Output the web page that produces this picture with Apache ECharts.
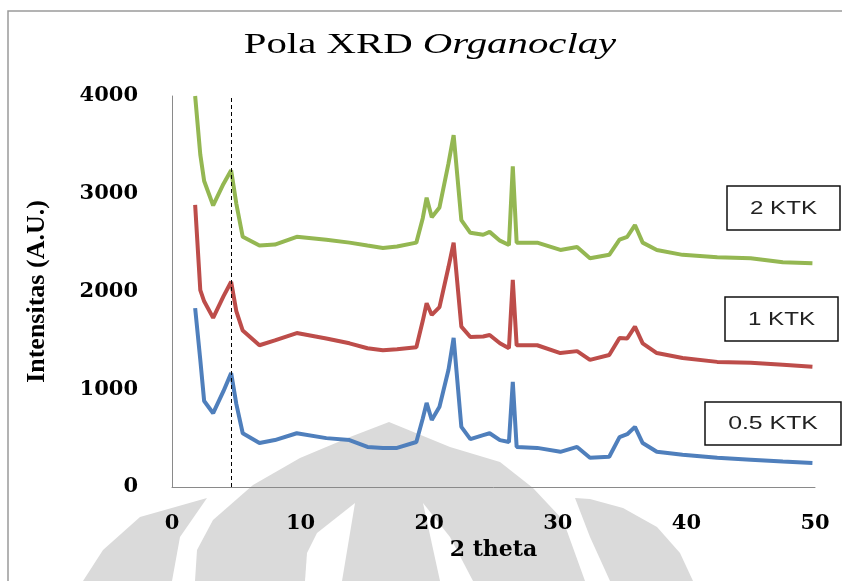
<!DOCTYPE html>
<html>
<head>
<meta charset="utf-8">
<title>Pola XRD Organoclay</title>
<script src="https://cdn.jsdelivr.net/npm/echarts@6/dist/echarts.min.js"></script>
<style>
  html, body { margin: 0; padding: 0; background: #fff; }
  #container { width: 842px; height: 581px; }
</style>
</head>
<body>
<div id="container"></div>
<script>
// 2 theta positions (shared by the three patterns)
var twoTheta = [1.8, 2.2, 2.5, 3.2, 4.0, 4.6, 5.0, 5.5, 6.8, 8.0,
    9.7, 12.0, 13.8, 15.2, 16.4, 17.5, 19.0, 19.5, 19.8, 20.2,
    20.8, 21.5, 21.9, 22.5, 23.2, 24.2, 24.7, 25.5, 26.2, 26.5,
    26.8, 28.4, 30.2, 31.5, 32.5, 34.0, 34.8, 35.4, 36.0, 36.6,
    37.7, 39.7, 42.4, 45.0, 47.5, 49.8];

// intensity (A.U.)
var ktk05 = [1830, 1300, 880, 755, 980, 1165, 850, 550, 450, 480,
    550, 500, 480, 410, 400, 400, 460, 700, 860, 685,
    820, 1200, 1525, 615, 490, 530, 550, 480, 460, 1075,
    410, 400, 360, 410, 300, 310, 510, 540, 615, 450,
    360, 330, 300, 280, 260, 245];
var ktk1 = [2885, 2015, 1900, 1730, 1950, 2100, 1800, 1600, 1450, 1500,
    1575, 1520, 1470, 1420, 1400, 1410, 1430, 1700, 1880, 1760,
    1840, 2250, 2500, 1640, 1535, 1540, 1555, 1470, 1420, 2120,
    1450, 1450, 1370, 1390, 1300, 1350, 1525, 1520, 1640, 1470,
    1370, 1320, 1280, 1270, 1250, 1230];
var ktk2 = [4000, 3400, 3130, 2880, 3100, 3240, 2900, 2560, 2470, 2480,
    2560, 2530, 2500, 2470, 2445, 2460, 2500, 2750, 2960, 2760,
    2860, 3310, 3600, 2730, 2600, 2580, 2610, 2520, 2475, 3280,
    2500, 2500, 2425, 2455, 2340, 2375, 2530, 2560, 2680, 2500,
    2425, 2375, 2350, 2340, 2300, 2290];

var seriesNames = ['0.5 KTK', '1 KTK', '2 KTK'];
var seriesColors = ['#4f7fbc', '#bd4d4a', '#94b752'];
var refLine = 4.6;

function pairs(ys) {
    return twoTheta.map(function (x, i) { return [x, ys[i]]; });
}

// faint watermark behind the plot
var wmGray = '#dadada';
var watermark = [
    { type: 'polygon', z: -5, silent: true,
      shape: { points: [[207, 498], [140, 517], [103, 550], [83, 581], [172, 581], [180, 537]] },
      style: { fill: wmGray } },
    { type: 'polygon', z: -5, silent: true,
      shape: { points: [[389, 422], [450, 447], [500, 462], [533, 488], [563, 520], [585, 581],
                        [195, 581], [197, 550], [213, 520], [253, 485], [300, 458], [350, 437]] },
      style: { fill: wmGray } },
    { type: 'polygon', z: -4, silent: true,
      shape: { points: [[355, 503], [342, 581], [305, 581], [307, 553], [317, 533]] },
      style: { fill: '#fff' } },
    { type: 'polygon', z: -4, silent: true,
      shape: { points: [[423, 503], [450, 537], [473, 581], [440, 581]] },
      style: { fill: '#fff' } },
    { type: 'polygon', z: -5, silent: true,
      shape: { points: [[575, 498], [590, 499], [623, 508], [657, 527], [680, 553], [693, 581],
                        [610, 581], [590, 537]] },
      style: { fill: wmGray } }
];

function labelBox(x, y, w, h, text, scale) {
    return {
        type: 'group',
        children: [
            { type: 'rect', shape: { x: x, y: y, width: w, height: h },
              style: { fill: '#fff', stroke: '#111', lineWidth: 1.5 } },
            { type: 'text', x: x + w / 2, y: y + h / 2 + 1, scaleX: scale,
              style: { text: text, fontSize: 18, fontFamily: 'Liberation Sans',
                       fill: '#222', align: 'center', verticalAlign: 'middle' } }
        ]
    };
}

var chart = echarts.init(document.getElementById('container'), null, { renderer: 'canvas' });

var axisFont = { fontFamily: 'DejaVu Serif', fontWeight: 'bold', fontSize: 21, color: '#000' };
function plain(v) { return String(v); }

var option = {
    backgroundColor: '#fff',
    animation: false,
    grid: { left: 172, right: 27, top: 96, bottom: 94 },
    xAxis: {
        type: 'value', min: 0, max: 50, interval: 10,
        name: '2 theta', nameLocation: 'middle', nameGap: 52,
        nameTextStyle: { fontFamily: 'DejaVu Serif', fontWeight: 'bold', fontSize: 22, color: '#000' },
        axisLine: { lineStyle: { color: '#8a8a8a', width: 1 } },
        axisTick: { show: false },
        splitLine: { show: false },
        axisLabel: Object.assign({ margin: 26, formatter: plain }, axisFont)
    },
    yAxis: {
        type: 'value', min: 0, max: 4000, interval: 1000,
        name: 'Intensitas (A.U.)', nameLocation: 'middle', nameGap: 122, nameRotate: 90,
        nameTextStyle: { fontFamily: 'Liberation Serif', fontWeight: 'bold', fontSize: 26, color: '#000' },
        axisLine: { show: true, lineStyle: { color: '#8a8a8a', width: 1 } },
        axisTick: { show: false },
        splitLine: { show: false },
        axisLabel: Object.assign({ margin: 34, formatter: plain }, axisFont)
    },
    graphic: watermark.concat([
        { type: 'rect', z: -6, silent: true, shape: { x: 8, y: 11, width: 900, height: 700 },
          style: { fill: 'none', stroke: '#9a9a9a', lineWidth: 1.5 } },
        { type: 'text', x: 430, y: 45, scaleX: 1.36,
          style: { text: 'Pola XRD {i|Organoclay}', fontSize: 30, fontFamily: 'Liberation Serif',
                   fill: '#000', align: 'center', verticalAlign: 'middle',
                   rich: { i: { fontSize: 30, fontFamily: 'Liberation Serif', fontStyle: 'italic', fill: '#000' } } } },
        labelBox(727, 186, 113, 44, '2 KTK', 1.34),
        labelBox(725, 297, 113, 44, '1 KTK', 1.34),
        labelBox(705, 402, 136, 43, '0.5 KTK', 1.38)
    ]),
    series: [ktk05, ktk1, ktk2].map(function (ys, i) {
        var s = {
            name: seriesNames[i],
            type: 'line',
            data: pairs(ys),
            showSymbol: false,
            symbol: 'none',
            lineStyle: { color: seriesColors[i], width: 4 },
            itemStyle: { color: seriesColors[i] }
        };
        if (i === 0) {
            s.markLine = {
                silent: true, symbol: 'none', label: { show: false },
                lineStyle: { color: '#000', type: [4, 3], width: 1 },
                data: [{ xAxis: refLine }]
            };
        }
        return s;
    })
};

chart.setOption(option);
</script>
</body>
</html>
